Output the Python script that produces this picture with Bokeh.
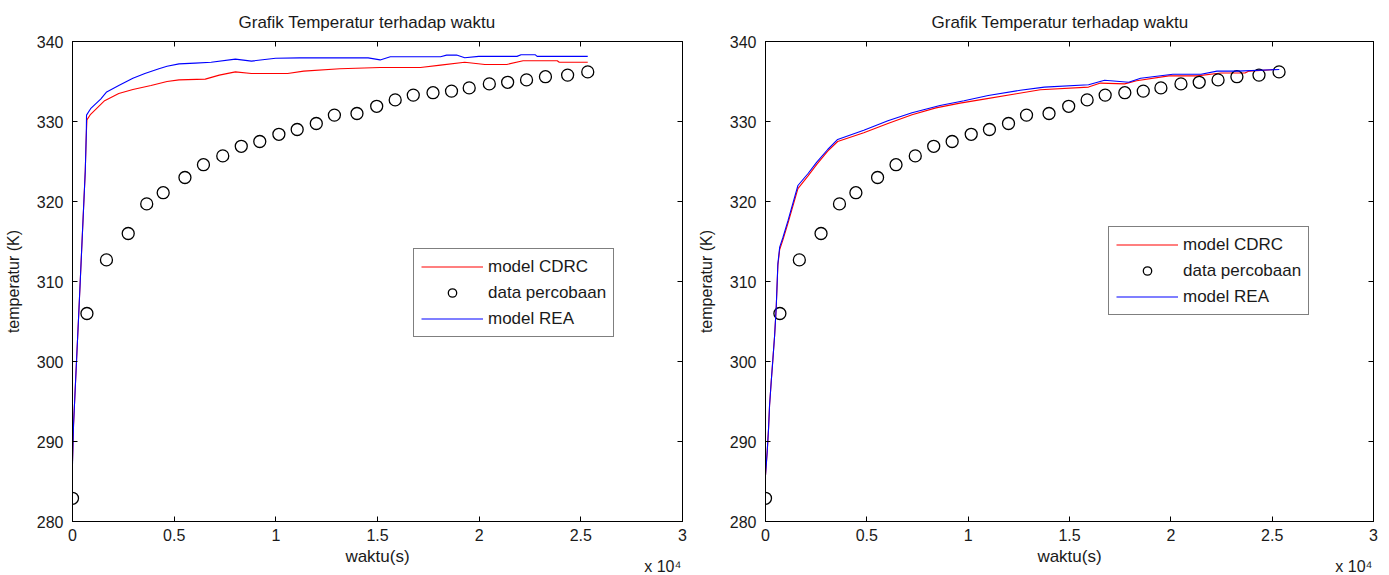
from bokeh.plotting import figure
from bokeh.models import LinearAxis, Range1d, Legend, LegendItem, FixedTicker
from bokeh.layouts import row
from bokeh.embed import file_html
from bokeh.resources import INLINE

# ---- data ----
t_data = [0, 710, 1670, 2740, 3650, 4460, 5530, 6440, 7390, 8300, 9210, 10150, 11050, 11990,
          12880, 13990, 14960, 15870, 16760, 17730, 18640, 19510, 20500, 21400, 22330, 23260, 24350, 25340]
T_data = [282.9, 306.0, 312.7, 316.0, 319.7, 321.1, 323.0, 324.6, 325.7, 326.9, 327.5, 328.4, 329.0, 329.75,
          330.8, 331.0, 331.9, 332.7, 333.3, 333.6, 333.8, 334.2, 334.7, 334.9, 335.2, 335.6, 335.8, 336.2]

# left panel
L_cdrc_t = [0, 50, 132, 215, 297, 380, 462, 545, 627, 677, 710, 890, 1580, 2275, 2970, 3860, 4650, 5240,
            6530, 7220, 8010, 8800, 10580, 11370, 13150, 15130, 17110, 18100, 19290, 20280, 21360, 22160,
            23840, 23940, 25340]
L_cdrc_T = [287.5, 292, 296.5, 301, 305.4, 310, 314.6, 319.2, 323.75, 328.3, 330.2, 330.9, 332.6, 333.5,
            334.0, 334.5, 335.0, 335.2, 335.3, 335.8, 336.2, 336.0, 336.0, 336.3, 336.6, 336.75, 336.75,
            337.05, 337.4, 337.13, 337.13, 337.6, 337.6, 337.4, 337.4]
L_rea_t = [0, 50, 132, 215, 297, 380, 462, 545, 627, 677, 690, 890, 1385, 1680, 2275, 2970, 3560, 4250,
           4650, 5240, 6030, 6820, 8010, 8800, 9990, 11180, 14540, 15130, 15630, 18100, 18400, 18890,
           19290, 19980, 21860, 22060, 22750, 22850, 25340]
L_rea_T = [287.2, 292, 296.5, 301, 305.4, 310, 314.6, 319.2, 323.75, 328.3, 330.8, 331.6, 332.8, 333.7,
           334.5, 335.4, 336.0, 336.6, 336.9, 337.2, 337.3, 337.4, 337.8, 337.55, 337.9, 337.95, 337.95,
           337.7, 338.1, 338.1, 338.3, 338.3, 337.97, 338.14, 338.14, 338.35, 338.35, 338.14, 338.14]

# right panel
R_cdrc_t = [0, 83, 150, 200, 280, 365, 450, 530, 610, 700, 860, 1110, 1600, 2100, 2520, 3070, 3560, 4850,
            6040, 7230, 8410, 9600, 10790, 12380, 13560, 15940, 16530, 17720, 18310, 19900, 21290, 22480,
            23660, 23860, 25150]
R_cdrc_T = [285.75, 288.7, 291.6, 294.5, 297.4, 300.3, 303.25, 306.8, 312.0, 314.0, 315.2, 317.3, 321.6,
            323.2, 324.6, 326.3, 327.5, 328.6, 329.75, 330.85, 331.7, 332.3, 332.8, 333.46, 333.97, 334.3,
            334.8, 334.7, 335.1, 335.7, 335.7, 336.07, 336.07, 336.3, 336.5]
R_rea_t = [0, 83, 150, 200, 280, 365, 450, 530, 610, 700, 860, 1110, 1600, 2100, 2520, 3070, 3560, 4850,
           6040, 7230, 8610, 9800, 10990, 12570, 13760, 15940, 16730, 17920, 18510, 20100, 21490, 22280,
           23270, 25350]
R_rea_T = [285.75, 288.7, 291.6, 294.5, 297.4, 300.3, 303.25, 306.8, 312.2, 314.3, 315.5, 317.6, 322.0,
           323.5, 324.9, 326.5, 327.76, 328.9, 330.1, 331.1, 332.0, 332.6, 333.25, 333.9, 334.3, 334.6,
           335.15, 334.9, 335.4, 335.9, 335.9, 336.3, 336.3, 336.5]

x_ticks = [0, 5000, 10000, 15000, 20000, 25000, 30000]
x_tick_labels = ["0", "0.5", "1", "1.5", "2", "2.5", "3"]
y_ticks = [280, 290, 300, 310, 320, 330, 340]

title_text = "Grafik Temperatur terhadap waktu"
x_label = "waktu(s)"
y_label = "temperatur (K)"
legend_labels = ["model CDRC", "data percobaan", "model REA"]
exp_text = "x 10\u2074"

FONT = "Liberation Sans"
TXT = "#1a1a1a"


def style_axis(ax, show_labels=True):
    ax.axis_line_color = "black"
    ax.major_tick_line_color = "black"
    ax.major_tick_in = 5
    ax.major_tick_out = 0
    ax.minor_tick_line_color = None
    ax.major_label_text_font = FONT
    ax.major_label_text_font_size = "16px"
    ax.major_label_text_color = TXT
    ax.axis_label_text_font = FONT
    ax.axis_label_text_font_size = "17px"
    ax.axis_label_text_font_style = "normal"
    ax.axis_label_text_color = TXT
    if not show_labels:
        ax.major_label_text_font_size = "1px"
        ax.major_label_text_color = None
        ax.major_label_text_alpha = 0
        ax.major_label_standoff = 0


def make_panel(cdrc_t, cdrc_T, rea_t, rea_T, legend_xy, border_left, border_right, fwidth):
    p = figure(output_backend="svg", toolbar_location=None,
               frame_width=fwidth, frame_height=480,
               x_range=Range1d(0, 30000), y_range=Range1d(280, 340),
               min_border_left=border_left, min_border_right=border_right,
               min_border_top=41, min_border_bottom=54,
               background_fill_color="white", border_fill_color="white")
    p.title.text = title_text
    p.title.align = "left"
    p.title.offset = 166
    p.title.text_font = FONT
    p.title.text_font_size = "17px"
    p.title.text_font_style = "normal"
    p.title.text_color = TXT
    p.title.standoff = 20
    p.outline_line_color = "black"
    p.grid.visible = False

    p.xaxis.ticker = FixedTicker(ticks=x_ticks)
    p.xaxis.major_label_overrides = {t: s for t, s in zip(x_ticks, x_tick_labels)}
    p.yaxis.ticker = FixedTicker(ticks=y_ticks)
    p.xaxis.axis_label = x_label
    p.yaxis.axis_label = y_label
    style_axis(p.xaxis[0])
    style_axis(p.yaxis[0])
    p.yaxis.axis_label_text_font_size = "16px"
    p.xaxis.major_label_standoff = 7
    p.xaxis.axis_label_standoff = 3
    p.yaxis.major_label_standoff = 9
    p.yaxis.axis_label_standoff = 12

    top = LinearAxis(ticker=FixedTicker(ticks=x_ticks))
    style_axis(top, False)
    p.add_layout(top, "above")
    right = LinearAxis(ticker=FixedTicker(ticks=y_ticks))
    style_axis(right, False)
    p.add_layout(right, "right")

    # exponent note under the right end of the x axis
    exp_pos = 29030
    exp_axis = LinearAxis(ticker=FixedTicker(ticks=[exp_pos]),
                          major_label_overrides={exp_pos: exp_text})
    style_axis(exp_axis)
    exp_axis.axis_line_color = None
    exp_axis.major_tick_line_color = None
    exp_axis.major_tick_in = 0
    exp_axis.major_label_text_font_size = "16px"
    exp_axis.major_label_standoff = -11
    p.add_layout(exp_axis, "below")

    r1 = p.line(cdrc_t, cdrc_T, line_color="#ff0000", line_width=1.1)
    r2 = p.scatter(t_data, T_data, marker="circle", size=12, fill_color=None,
                   line_color="black", line_width=1.3)
    r3 = p.line(rea_t, rea_T, line_color="#0000ff", line_width=1.1)

    legend = Legend(items=[LegendItem(label=legend_labels[0], renderers=[r1]),
                           LegendItem(label=legend_labels[1], renderers=[r2]),
                           LegendItem(label=legend_labels[2], renderers=[r3])],
                    location=legend_xy)
    legend.border_line_color = "black"
    legend.border_line_width = 1
    legend.background_fill_color = "white"
    legend.background_fill_alpha = 1
    legend.label_text_font = FONT
    legend.label_text_font_size = "17px"
    legend.label_text_color = TXT
    legend.glyph_width = 62
    legend.glyph_height = 21
    legend.label_height = 21
    legend.spacing = 5
    legend.padding = 7
    legend.margin = 0
    legend.label_standoff = 5
    p.add_layout(legend, "center")
    return p


p1 = make_panel(L_cdrc_t, L_cdrc_T, L_rea_t, L_rea_T, (341, 184), 72, 11, 610)
p2 = make_panel(R_cdrc_t, R_cdrc_T, R_rea_t, R_rea_T, (343, 206), 72, 8, 608)

layout = row(p1, p2)
open("out.html", "w").write(file_html(layout, INLINE))
